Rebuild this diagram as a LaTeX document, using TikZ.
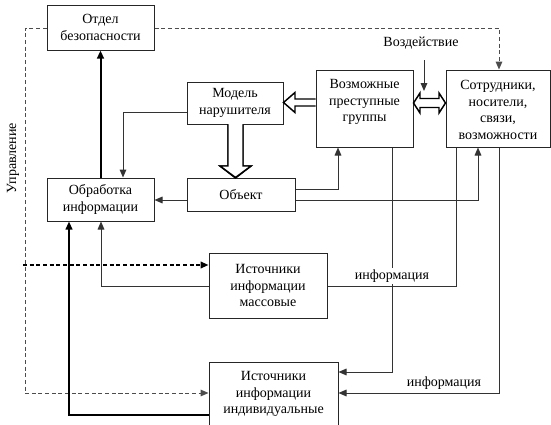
\documentclass[tikz,border=0pt]{standalone}
\usepackage{fontspec}
\setmainfont{Liberation Serif}
\usetikzlibrary{arrows.meta,calc}
\begin{document}
\begin{tikzpicture}[x=0.75pt,y=-0.75pt,
  font=\fontsize{10.5}{12.5}\selectfont,
  box/.style={draw=black!85,line width=0.75pt,rectangle,inner sep=0pt,align=center},
  lbl/.style={align=center,inner sep=0pt},
  ln/.style={draw=black!80,line width=0.75pt},
  arr/.style={ln,-{Triangle[length=6pt,width=5pt]}},
  thick arr/.style={draw=black,line width=1.5pt,-{Triangle[length=6pt,width=5pt]}},
  dashln/.style={draw=black!70,line width=0.75pt,dash pattern=on 3pt off 2pt},
  dasharr/.style={dashln,-{Triangle[length=6pt,width=5pt]}},
  bigdash/.style={draw=black,line width=1.3pt,dash pattern=on 3pt off 2pt,-{Triangle[length=6pt,width=5pt]}},
  hollow/.style={draw=black,line width=1.1pt,fill=white,line join=miter}
]
\useasboundingbox (0,0) rectangle (551,425);

% boxes
\node[box,minimum width=107*0.75pt,minimum height=45*0.75pt] (otdel) at (100.5,27.5) {Отдел\\безопасности};
\node[box,minimum width=96*0.75pt,minimum height=42*0.75pt] (model) at (235,103) {Модель\\нарушителя};
\node[box,minimum width=97*0.75pt,minimum height=77*0.75pt] (vozm) at (364.5,108.5) {};
\node[lbl] (vozmT) at (364.5,102) {Возможные\\преступные\\группы};
\node[box,minimum width=104*0.75pt,minimum height=77*0.75pt] (sotr) at (498,108.5) {};
\node[lbl] (sotrT) at (498,110) {Сотрудники,\\носители,\\связи,\\возможности};
\node[box,minimum width=107*0.75pt,minimum height=43*0.75pt] (obrab) at (100.5,199.5) {Обработка\\информации};
\node[box,minimum width=108*0.75pt,minimum height=33*0.75pt] (obj) at (241,194.5) {Объект};
\node[box,minimum width=118*0.75pt,minimum height=65*0.75pt] (mass) at (268,285.5) {Источники\\информации\\массовые};
\node[box,minimum width=129*0.75pt,minimum height=64*0.75pt] (indiv) at (273.5,394) {Источники\\информации\\индивидуальные};

\node[lbl,rotate=90] (upr) at (13,158) {Управление};
\node[lbl] (vozd) at (421,43) {Воздействие};
\coordinate (vozdTop) at (424,60);
\coordinate (vozdEnd) at (424,91);
\coordinate (ctrlStart) at (23,265);

% thick up arrow
\draw[thick arr] (obrab.north) -- (otdel.south);

% dashed control lines
\draw[dasharr] (otdel.east |- 0,28) -- (499,28) -- (sotr.north -| 499,0);
\draw[dasharr] (otdel.west |- 0,28) -- (25,28) -- (25,393) -- (indiv.west |- 0,393);
\draw[bigdash] (ctrlStart) -- (mass.west |- ctrlStart);

% model -> obrab
\draw[arr] (model.west |- 0,112) -- (123,112) -- (obrab.north -| 123,0);

% big hollow down arrow model -> obj
\path[hollow] (228,124) -- (228,166) -- (220,166) -- (235.5,178) -- (251,166) -- (243,166) -- (243,124);
\draw[hollow] (model.south -| 228,0) -- (228,166) -- (220,166) -- (obj.north -| 235.5,0) -- (251,166) -- (243,166) -- (model.south -| 243,0);

% hollow arrow vozm -> model
\draw[hollow] (vozm.west |- 0,99) -- (295,99) -- (295,92.5) -- (model.east |- 0,102.5) -- (295,112.5) -- (295,106) -- (vozm.west |- 0,106);

% hollow double arrow vozm <-> sotr
\draw[hollow] (vozm.east |- 0,103) -- (420,93) -- (420,98.5) -- (439,98.5) -- (439,93) -- (sotr.west |- 0,103) -- (439,113) -- (439,107.5) -- (420,107.5) -- (420,113) -- cycle;

% Воздействие arrow
\draw[arr] (vozdTop) -- (vozdEnd);

% obj -> obrab
\draw[arr] (obj.west |- 0,200) -- (obrab.east |- 0,200);
% obj -> vozm, obj -> sotr
\draw[arr] (obj.east |- 0,189) -- (338,189) -- (vozm.south -| 338,0);
\draw[arr] (obj.east |- 0,200) -- (478,200) -- (sotr.south -| 478,0);

% vozm -> indiv
\draw[arr] (vozm.south -| 392,0) -- (392,372) -- (indiv.east |- 0,372);
% mass -> sotr
\draw[ln] (mass.east |- 0,286) -- (456,286) -- (sotr.south -| 456,0);
\node[lbl,fill=white,inner sep=1pt] (info1) at (392,276) {информация};
% sotr -> indiv
\draw[arr] (sotr.south -| 499,0) -- (499,393) -- (indiv.east |- 0,393);
\node[lbl] (info2) at (444,383) {информация};

% indiv -> obrab (thick)
\draw[draw=black,line width=1.3pt,-{Triangle[length=6pt,width=5pt]}] (indiv.west |- 0,415) -- (69,415) -- (obrab.south -| 69,0);
% mass -> obrab
\draw[arr] (mass.west |- 0,286) -- (101,286) -- (obrab.south -| 101,0);
\end{tikzpicture}
\end{document}
